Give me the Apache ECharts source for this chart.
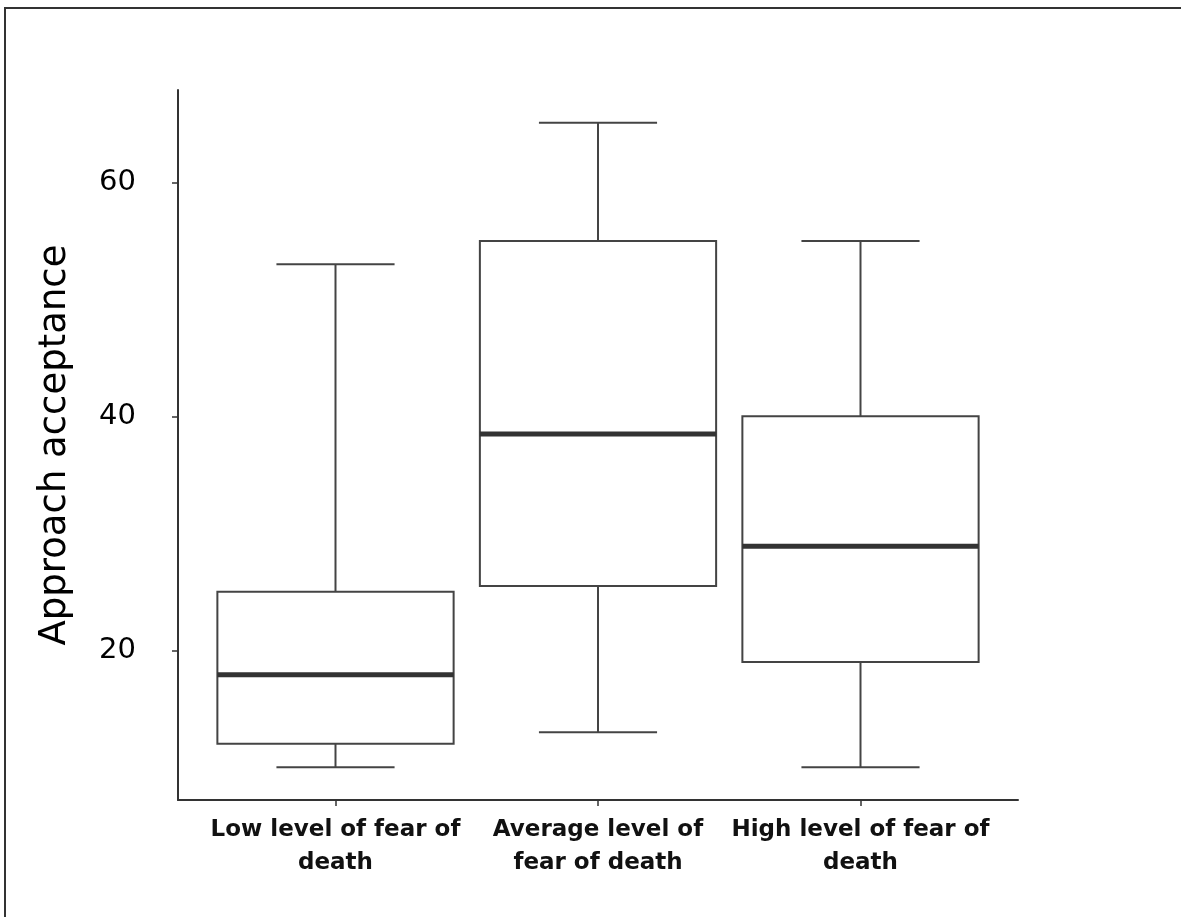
<!DOCTYPE html>
<html>
<head>
<meta charset="utf-8">
<script src="https://cdn.jsdelivr.net/npm/echarts@6/dist/echarts.min.js"></script>
<style>
  html, body { margin: 0; padding: 0; background: #fff; }
  #frame {
    position: absolute; left: 4px; top: 7px; width: 1177px; height: 910px;
    border-top: 2px solid #333; border-left: 2px solid #333; box-sizing: border-box;
  }
  #chart { position: absolute; left: 0; top: 0; width: 1181px; height: 917px; }
</style>
</head>
<body>
<div id="frame"></div>
<div id="chart"></div>
<script>
// group labels and box statistics
const categories = ['Low level of fear of\ndeath', 'Average level of\nfear of death', 'High level of fear of\ndeath'];
const positions = [1, 2, 3];
const lowWhisker = [10, 13, 10];
const q1 = [12, 25.5, 19];
const median = [17.9, 38.5, 28.9];
const q3 = [25, 55, 40];
const highWhisker = [53, 65.1, 55];
const yTicks = [20, 40, 60];

const boxWidth = 0.9;  // in x units
const capWidth = 0.45;

var myChart = echarts.init(document.getElementById('chart'));

const boxData = positions.map((p, i) => [p, lowWhisker[i], q1[i], median[i], q3[i], highWhisker[i]]);

function renderBox(params, api) {
    const x = api.value(0);
    const pLo = api.coord([x, api.value(1)]);
    const pQ1 = api.coord([x, api.value(2)]);
    const pMed = api.coord([x, api.value(3)]);
    const pQ3 = api.coord([x, api.value(4)]);
    const pHi = api.coord([x, api.value(5)]);
    const halfBox = api.size([boxWidth, 0])[0] / 2;
    const halfCap = api.size([capWidth, 0])[0] / 2;
    const cx = pMed[0];
    const lineStyle = { stroke: '#444', lineWidth: 2, fill: null };
    return {
        type: 'group',
        children: [
            { type: 'line', shape: { x1: cx, y1: pQ3[1], x2: cx, y2: pHi[1] }, style: lineStyle },
            { type: 'line', shape: { x1: cx, y1: pQ1[1], x2: cx, y2: pLo[1] }, style: lineStyle },
            { type: 'line', shape: { x1: cx - halfCap, y1: pHi[1], x2: cx + halfCap, y2: pHi[1] }, style: lineStyle },
            { type: 'line', shape: { x1: cx - halfCap, y1: pLo[1], x2: cx + halfCap, y2: pLo[1] }, style: lineStyle },
            { type: 'rect', shape: { x: cx - halfBox, y: pQ3[1], width: halfBox * 2, height: pQ1[1] - pQ3[1] },
              style: { stroke: '#444', lineWidth: 2, fill: '#fff' } },
            { type: 'line', shape: { x1: cx - halfBox, y1: pMed[1], x2: cx + halfBox, y2: pMed[1] },
              style: { stroke: '#333', lineWidth: 5 } }
        ]
    };
}

var option = {
    animation: false,
    grid: { left: 178, right: 163, top: 90, bottom: 117 },
    xAxis: {
        type: 'value',
        min: 0.4,
        max: 3.6,
        splitLine: { show: false },
        axisLine: { lineStyle: { color: '#333', width: 2 } },
        axisTick: { show: true, customValues: positions, length: 6, lineStyle: { color: '#333', width: 1.5 } },
        axisLabel: {
            customValues: positions,
            formatter: v => categories[positions.indexOf(Math.round(v))] || '',
            fontFamily: 'DejaVu Sans',
            fontWeight: 'bold',
            fontSize: 23,
            lineHeight: 33,
            color: '#111',
            margin: 14
        }
    },
    yAxis: {
        type: 'value',
        min: 7.2,
        max: 67.9,
        splitLine: { show: false },
        axisLine: { show: true, lineStyle: { color: '#333', width: 2 } },
        axisTick: { show: true, customValues: yTicks, length: 6, lineStyle: { color: '#333', width: 1.5 } },
        axisLabel: {
            customValues: yTicks,
            fontFamily: 'DejaVu Sans',
            fontSize: 29,
            color: '#000',
            margin: 42
        },
        name: 'Approach acceptance',
        nameLocation: 'middle',
        nameRotate: 90,
        nameGap: 104,
        nameTextStyle: { fontFamily: 'DejaVu Sans', fontSize: 37, color: '#000' }
    },
    series: [{
        type: 'custom',
        renderItem: renderBox,
        encode: { x: 0, y: [1, 2, 3, 4, 5] },
        data: boxData
    }]
};

myChart.setOption(option);
</script>
</body>
</html>
